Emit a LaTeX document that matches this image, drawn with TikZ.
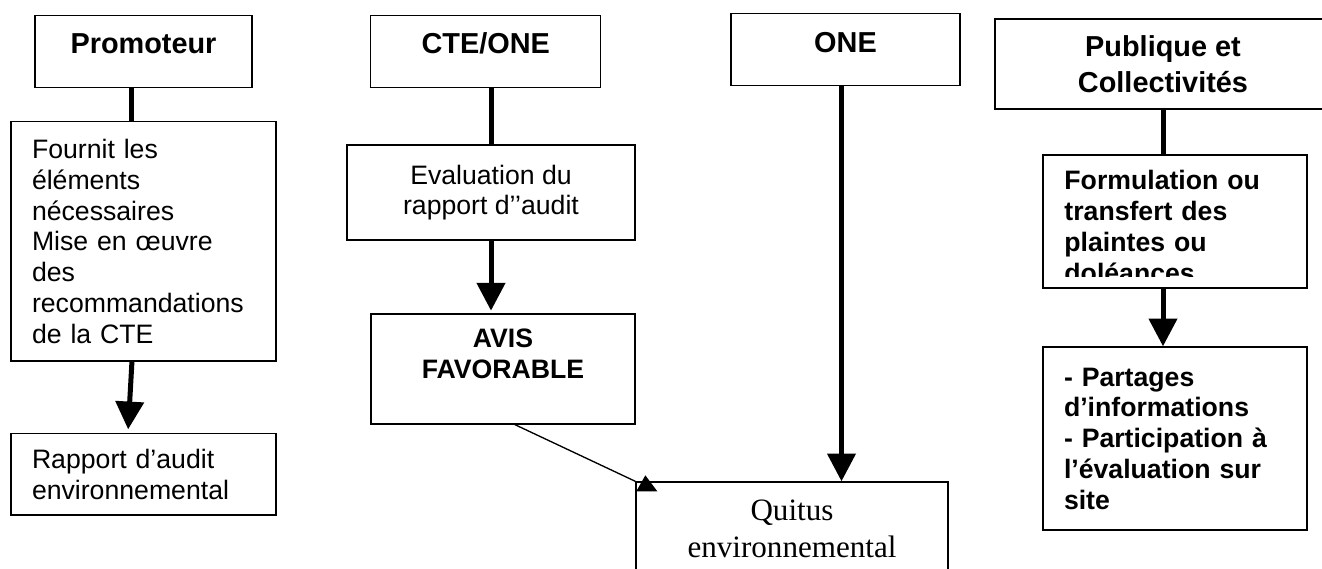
\documentclass[tikz,border=0pt]{standalone}
\usepackage{fontspec}
\setmainfont{Liberation Sans}
\newfontfamily\quitusfont{Liberation Serif}
\usetikzlibrary{positioning, arrows.meta}

\begin{document}
\begin{tikzpicture}[x=0.4503pt, y=-0.4503pt,
		every node/.style = {font=\fontsize{12pt}{13.85pt}\selectfont},
		boite/.style args = {#1/#2}{%
			draw, line width=0.6pt, inner sep=0pt,
			minimum width=#1*0.4503pt, minimum height=#2*0.4503pt},
		gras/.style = {font=\bfseries\fontsize{12pt}{13.85pt}\selectfont},
		entete/.style = {font=\bfseries\fontsize{13pt}{16pt}\selectfont},
		titre/.style = {entete, text height=9.3pt, text depth=7.1pt},
		gauche/.style = {align=left, text width=#1*0.4503pt},
		trait/.style = {line width=2.25pt},
		fleche/.style = {trait, -{Triangle[length=12.5pt, width=12.5pt]}}
                    ]
		\useasboundingbox (0, 0) rectangle (1322, 569);

		% Promoteur
		\node(promo) [boite=217/72, titre] at (143.5, 51.5) {Promoteur};
		\node(fournit) [boite=265/239.5, gauche=223] at (143.5, 241.25)
			{Fournit les\\éléments\\nécessaires\\Mise en œuvre\\des\\recommandations\\de la CTE};
		\node(rapport) [boite=265/81.5, gauche=223] at (143.5, 474.3)
			{Rapport d’audit\\environnemental};

		% CTE/ONE
		\node(cte) [boite=230/72, titre] at (485.8, 51.5) {CTE/ONE};
		\node(eval) [boite=288/95, align=center] at (491, 192.5)
			{Evaluation du\\rapport d’{}’audit};
		\node(avis) [boite=264/110, gras, align=center] at (503, 369)
			{AVIS\\FAVORABLE\\\mbox{}};

		% ONE
		\node(one) [boite=229/72, titre] at (845.5, 49.7) {ONE};
		\node(quitus) [boite=312/94, align=center,
			font=\quitusfont\fontsize{14pt}{16.7pt}\selectfont] at (792, 529)
			{Quitus\\environnemental};

		% Publique et collectivites
		\node(publ) [boite=336/90, entete, align=center] at (1163, 64)
			{Publique et\\Collectivités};
		\begin{scope}
			\clip (1043, 155) rectangle (1307, 277);
			\node(formtxt) [gras, gauche=222, inner sep=0pt, anchor=base west] at (1064, 190)
				{Formulation ou\\transfert des\\plaintes ou\\doléances};
		\end{scope}
		\node(formul) [boite=264/133] at (1175, 221.5) {};
		\node(partages) [boite=264/183, gras, gauche=222] at (1175, 438.5)
			{- Partages\\d’informations\\- Participation à\\l’évaluation sur\\site};

		\draw [trait] ([xshift=-5.2pt]promo.south) -- ([xshift=-5.2pt]fournit.north);
		\draw [fleche, shorten >=1.6pt] ([xshift=-5.2pt]fournit.south) -- ([xshift=-7pt]rapport.north);
		\draw [trait] (cte.south -| eval.north) -- (eval.north);
		\draw [fleche, shorten >=1.2pt] (eval.south) -- (eval.south |- avis.north);
		\draw [fleche] ([xshift=-1.8pt]one.south) -- ([xshift=-1.8pt]one.south |- quitus.north);
		\draw [trait] (publ.south) -- (publ.south |- formul.north);
		\draw [fleche] (publ.south |- formul.south) -- (publ.south |- partages.north);

		\draw [line width=0.6pt] ([xshift=5.4pt]avis.south) -- (quitus.north west);
		\fill ([shift={(4.5pt,2.7pt)}]quitus.north west) -- ([shift={(0.45pt,-4.5pt)}]quitus.north west)
			-- ([shift={(9.9pt,-4.5pt)}]quitus.north west) -- cycle;
	\end{tikzpicture}
\end{document}
